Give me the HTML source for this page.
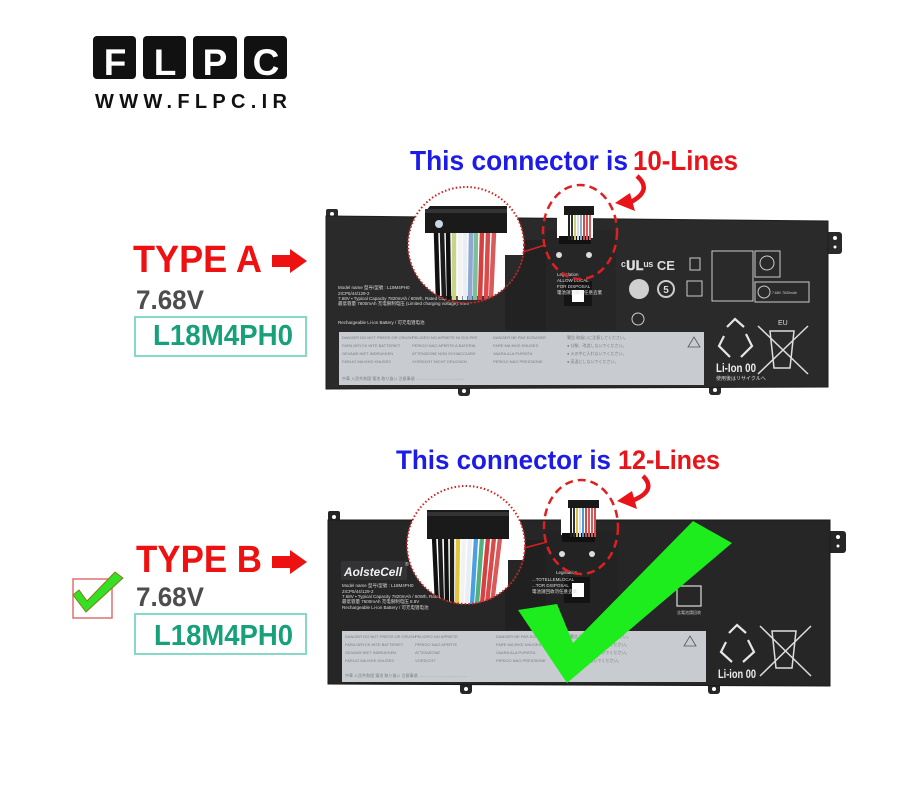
<!DOCTYPE html>
<html><head><meta charset="utf-8"><style>
html,body{margin:0;padding:0;background:#fff;}
svg{display:block;}
text{font-family:"Liberation Sans","Noto Sans CJK JP",sans-serif;}
</style></head><body>
<svg width="915" height="800" viewBox="0 0 915 800" xmlns="http://www.w3.org/2000/svg">
<defs>
<clipPath id="cA"><circle cx="466" cy="245" r="58"/></clipPath>
<clipPath id="cB"><circle cx="466" cy="545" r="59"/></clipPath>
</defs>
<rect width="915" height="800" fill="#fff"/>

<!-- LOGO -->
<g>
<rect x="93" y="36" width="43" height="43" rx="4" fill="#111"/>
<rect x="143" y="36" width="43" height="43" rx="4" fill="#111"/>
<rect x="193" y="36" width="44" height="43" rx="4" fill="#111"/>
<rect x="244" y="36" width="43" height="43" rx="4" fill="#111"/>
<g font-size="37" font-weight="bold" fill="#fff" text-anchor="middle">
<text x="115" y="75">F</text><text x="165" y="75">L</text><text x="215" y="75">P</text><text x="266" y="75">C</text>
</g>
<text x="95" y="108" font-size="20" font-weight="bold" fill="#111" textLength="192" lengthAdjust="spacing">WWW.FLPC.IR</text>
</g>

<!-- LEFT LABELS A -->
<text x="133" y="272" font-size="38" font-weight="bold" fill="#ee1111" textLength="129" lengthAdjust="spacingAndGlyphs">TYPE A</text>
<path d="M272,255 H290 V249 L307,261 L290,273 V267 H272 Z" fill="#ee1111"/>
<text x="136" y="309" font-size="27" font-weight="bold" fill="#4d4d4d" textLength="68" lengthAdjust="spacingAndGlyphs">7.68V</text>
<rect x="135" y="317" width="171" height="39" fill="none" stroke="#86d9c6" stroke-width="2"/>
<text x="153" y="345" font-size="29" font-weight="bold" fill="#17a17b" textLength="140" lengthAdjust="spacingAndGlyphs">L18M4PH0</text>

<!-- LEFT LABELS B -->
<text x="136" y="572" font-size="38" font-weight="bold" fill="#ee1111" textLength="126" lengthAdjust="spacingAndGlyphs">TYPE B</text>
<path d="M272,556 H290 V550 L307,562 L290,574 V568 H272 Z" fill="#ee1111"/>
<text x="136" y="606" font-size="27" font-weight="bold" fill="#4d4d4d" textLength="68" lengthAdjust="spacingAndGlyphs">7.68V</text>
<rect x="135" y="614" width="171" height="40" fill="none" stroke="#86d9c6" stroke-width="2"/>
<text x="154" y="645" font-size="29" font-weight="bold" fill="#17a17b" textLength="139" lengthAdjust="spacingAndGlyphs">L18M4PH0</text>
<rect x="73" y="579" width="39" height="39" fill="none" stroke="#e07070" stroke-width="1.5"/>
<polygon points="73,595 79,590 87,601 115,572 123,578 86,612" fill="#33e022" stroke="#8a7a20" stroke-width="1"/>

<!-- HEADINGS -->
<text x="410" y="170" font-size="28" font-weight="bold" fill="#1c1ce6" textLength="218" lengthAdjust="spacingAndGlyphs">This connector is</text>
<text x="633" y="170" font-size="28" font-weight="bold" fill="#e8141a" textLength="105" lengthAdjust="spacingAndGlyphs">10-Lines</text>
<text x="396" y="469" font-size="27" font-weight="bold" fill="#1c1ce6" textLength="215" lengthAdjust="spacingAndGlyphs">This connector is</text>
<text x="618" y="469" font-size="27" font-weight="bold" fill="#e8141a" textLength="102" lengthAdjust="spacingAndGlyphs">12-Lines</text>

<!-- ================= BATTERY A ================= -->
<g>
<rect x="326" y="209" width="12" height="12" rx="2" fill="#2a2a2b"/>
<circle cx="332" cy="214" r="2" fill="#fff"/>
<rect x="824" y="232" width="18" height="22" rx="3" fill="#2a2a2b"/>
<circle cx="835" cy="238" r="2" fill="#fff"/><circle cx="835" cy="247" r="1.5" fill="#fff"/>
<rect x="458" y="385" width="12" height="11" rx="3" fill="#2a2a2b"/><circle cx="464" cy="391" r="2" fill="#fff"/>
<rect x="709" y="384" width="12" height="11" rx="3" fill="#2a2a2b"/><circle cx="715" cy="390" r="2" fill="#fff"/>
<path d="M326,216 L828,221 L828,387 L326,389 Z" fill="#2a2a2b" stroke="#1e1e1e" stroke-width="1"/>
<rect x="505" y="240" width="46" height="90" fill="#222223"/>
<rect x="546" y="230" width="70" height="100" fill="#262627"/>
<!-- notch -->
<rect x="557" y="212" width="36" height="26" fill="#fff"/>
<rect x="559" y="236" width="32" height="8" fill="#111"/>
<g stroke-width="2">
<line x1="569" y1="214" x2="569" y2="240" stroke="#222"/>
<line x1="572" y1="214" x2="572" y2="240" stroke="#333"/>
<line x1="575" y1="214" x2="575" y2="240" stroke="#c8d080"/>
<line x1="578" y1="214" x2="578" y2="240" stroke="#ddd"/>
<line x1="581" y1="214" x2="581" y2="240" stroke="#90aacc"/>
<line x1="584" y1="214" x2="584" y2="240" stroke="#d04a4a"/>
<line x1="587" y1="214" x2="587" y2="240" stroke="#d85858"/>
<line x1="590" y1="214" x2="590" y2="240" stroke="#d06060"/>
</g>
<rect x="564" y="206" width="30" height="9" fill="#1a1a1a"/>
<circle cx="559" cy="255" r="3" fill="#ddd"/><circle cx="589" cy="255" r="3" fill="#ddd"/>
<rect x="564" y="281" width="28" height="25" fill="#151515"/>
<rect x="572" y="290" width="12" height="12" fill="#fff"/>
<!-- left text -->
<g font-size="4.5" fill="#ddd">
<text x="338" y="289">Model name 型号/型號 : L18M4PH0</text>
<text x="338" y="295">2ICP5/44/129-2</text>
<text x="338" y="300">7.68V ▪ Typical Capacity 7820mAh / 60Wh, Rated Capacity 7600mAh</text>
<text x="338" y="305">最低容量 7600mAh 充电限制电压 (Limited charging voltage): 8.8V</text>
<text x="338" y="324">Rechargeable Li-ion Battery / 可充电锂电池</text>
<text x="557" y="276">Legislation</text>
<text x="557" y="282">ALLOW LOCAL</text>
<text x="557" y="288">FOR DISPOSAL</text>
<text x="557" y="294">電池請回收勿任意丟棄</text>
</g>
<!-- sticker -->
<rect x="339" y="332" width="365" height="53" fill="#c8ccd1"/>
<g font-size="4" fill="#7a7d82">
<text x="342" y="339">DANGER  DO NOT PRESS OR CRUSH</text><text x="412" y="339">PELIGRO  NO APRIETE NI GOLPEE</text><text x="493" y="339">DANGER  NE PAS ECRASER</text><text x="567" y="339">警告 取扱いに注意してください。</text>
<text x="342" y="347">FARA  DRYCK INTE BATTERIET</text><text x="412" y="347">PERIGO  NAO APERTE A BATERIA</text><text x="493" y="347">FARE  MA IKKE KNUSES</text><text x="567" y="347">● 分解、改造しないでください。</text>
<text x="342" y="355">GEVAAR  NIET INDRUKKEN</text><text x="412" y="355">ATTENZIONE  NON SCHIACCIARE</text><text x="493" y="355">VAARA  ALA PURISTA</text><text x="567" y="355">● 火の中に入れないでください。</text>
<text x="342" y="363">FARLIG  MA IKKE KNUSES</text><text x="412" y="363">VORSICHT  NICHT DRUCKEN</text><text x="493" y="363">PERIGO  NAO PRESSIONE</text><text x="567" y="363">● 高温にしないでください。</text>
<text x="342" y="380">中華 人民共和国 電池 取り扱い 注意事項 ............................................</text>
</g>
<path d="M694,337 L700,347 L688,347 Z" fill="none" stroke="#555" stroke-width="0.8"/>
<!-- right icons -->
<g fill="none" stroke="#ccc" stroke-width="1">
<text x="621" y="270" font-size="13" font-weight="bold" fill="#ddd" stroke="none">ᶜ𝐔𝐋ᵘˢ CE</text>
<rect x="690" y="258" width="10" height="12"/>
<circle cx="639" cy="289" r="10" fill="#d0d0d0" stroke="none"/>
<circle cx="666" cy="289" r="8" stroke-width="2"/>
<rect x="687" y="281" width="15" height="15"/>
<circle cx="638" cy="319" r="6"/>
<rect x="712" y="251" width="41" height="50"/>
<rect x="755" y="251" width="25" height="26"/>
<circle cx="767" cy="263" r="7"/>
<rect x="755" y="282" width="54" height="20"/>
<circle cx="764" cy="292" r="6"/>
</g>
<text x="666" y="293" font-size="10" font-weight="bold" fill="#ddd" text-anchor="middle">5</text>
<text x="772" y="294" font-size="3.5" fill="#ccc">7.68V 7630mAh</text>
<!-- recycle A -->
<g fill="none" stroke="#e6e6e6" stroke-width="2.2">
<path d="M727,327 L735,319 L744,327 M746,334 L752,346 L741,357 M730,357 L719,346 L724,336"/>
</g>
<text x="716" y="372" font-size="11.5" font-weight="bold" fill="#eee" textLength="40" lengthAdjust="spacingAndGlyphs">Li-Ion 00</text>
<text x="716" y="380" font-size="5" fill="#ddd">使用後はリサイクルへ</text>
<text x="778" y="325" font-size="7" fill="#ddd">EU</text>
<g fill="none" stroke="#ddd" stroke-width="1.5">
<path d="M770,331 H794 L790,368 H774 Z"/>
<line x1="758" y1="326" x2="808" y2="374"/><line x1="808" y1="326" x2="758" y2="374"/>
</g>
</g>

<!-- Zoom circle A -->
<g>
<g clip-path="url(#cA)">
<rect x="400" y="180" width="140" height="130" fill="#fff"/>
<rect x="505" y="255" width="30" height="60" fill="#2a2a2b"/>
<rect x="400" y="296" width="140" height="20" fill="#2a2a2b"/>
<g stroke-width="4.5">
<line x1="436" y1="232" x2="438" y2="300" stroke="#111"/>
<line x1="442" y1="232" x2="444" y2="300" stroke="#1c1c1c"/>
<line x1="448" y1="232" x2="449" y2="300" stroke="#111"/>
<line x1="454" y1="232" x2="454" y2="300" stroke="#c8d48a"/>
<line x1="460" y1="232" x2="460" y2="300" stroke="#f2f2f2"/>
<line x1="465" y1="232" x2="465" y2="300" stroke="#e8eef4"/>
<line x1="471" y1="232" x2="470" y2="300" stroke="#8ea8d2"/>
<line x1="476" y1="232" x2="475" y2="300" stroke="#7cbf98"/>
<line x1="482" y1="232" x2="480" y2="300" stroke="#d84040"/>
<line x1="488" y1="232" x2="486" y2="300" stroke="#db4a4a"/>
<line x1="494" y1="232" x2="491" y2="300" stroke="#d85a5a"/>
</g>
<path d="M425,212 L430,206 H507 V233 H425 Z" fill="#1a1a1a"/>
<rect x="425" y="209" width="82" height="4" fill="#333"/>
<circle cx="439" cy="224" r="4" fill="#c9d8e6"/>
</g>
<circle cx="466" cy="245" r="58" fill="none" stroke="#d42020" stroke-width="2" stroke-dasharray="1.5 2.2"/>
<line x1="523" y1="252" x2="545" y2="245" stroke="#d42020" stroke-width="1.5"/>
<ellipse cx="580" cy="232" rx="37" ry="47" fill="none" stroke="#e02020" stroke-width="2.5" stroke-dasharray="8 5"/>
<path d="M637,176 Q653,190 631,202" fill="none" stroke="#e8141a" stroke-width="4.5"/>
<polygon points="615,203 630,193 635,211" fill="#e8141a"/>
</g>

<!-- ================= BATTERY B ================= -->
<g>
<rect x="328" y="511" width="12" height="13" rx="2" fill="#262627"/>
<circle cx="334" cy="517" r="2" fill="#fff"/>
<rect x="826" y="531" width="20" height="22" rx="3" fill="#262627"/>
<circle cx="838" cy="537" r="2" fill="#fff"/><circle cx="838" cy="546" r="1.5" fill="#fff"/>
<rect x="460" y="682" width="12" height="12" rx="3" fill="#262627"/><circle cx="466" cy="689" r="2" fill="#fff"/>
<rect x="708" y="682" width="12" height="12" rx="3" fill="#262627"/><circle cx="714" cy="689" r="2" fill="#fff"/>
<path d="M328,520 L830,520 L830,686 L328,684 Z" fill="#262627" stroke="#1a1a1a" stroke-width="1"/>
<rect x="505" y="540" width="46" height="90" fill="#202021"/>
<rect x="546" y="530" width="72" height="100" fill="#232324"/>
<rect x="561" y="514" width="35" height="21" fill="#fff"/>
<rect x="562" y="533" width="33" height="9" fill="#111"/>
<g stroke-width="2">
<line x1="571" y1="508" x2="571" y2="537" stroke="#222"/>
<line x1="574" y1="508" x2="574" y2="537" stroke="#333"/>
<line x1="577" y1="508" x2="577" y2="537" stroke="#d8c050"/>
<line x1="580" y1="508" x2="580" y2="537" stroke="#ddd"/>
<line x1="583" y1="508" x2="583" y2="537" stroke="#4a9ae0"/>
<line x1="586" y1="508" x2="586" y2="537" stroke="#d04a4a"/>
<line x1="589" y1="508" x2="589" y2="537" stroke="#d85858"/>
<line x1="592" y1="508" x2="592" y2="537" stroke="#d06060"/>
<line x1="595" y1="508" x2="595" y2="537" stroke="#d05050"/>
</g>
<rect x="568" y="500" width="31" height="8" fill="#1a1a1a"/>
<circle cx="562" cy="554" r="3" fill="#ddd"/><circle cx="592" cy="554" r="3" fill="#ddd"/>
<rect x="564" y="577" width="26" height="26" fill="#131313"/>
<rect x="572" y="583" width="12" height="14" fill="#fff"/>
<!-- AolsteCell -->
<rect x="341" y="561" width="66" height="19" rx="2" fill="#333335"/>
<text x="344" y="576" font-size="12" font-weight="bold" font-style="italic" fill="#f2f2f2" textLength="58" lengthAdjust="spacingAndGlyphs">AolsteCell</text>
<text x="405" y="566" font-size="5" fill="#ddd">®</text>
<g font-size="4.5" fill="#ddd">
<text x="342" y="587">Model name 型号/型號 : L18M4PH0</text>
<text x="342" y="593">2ICP5/44/129-2</text>
<text x="342" y="598">7.68V ▪ Typical Capacity 7820mAh / 60Wh, Rated Capacity 7600mAh</text>
<text x="342" y="603">最低容量 7600mAh 充电限制电压 8.8V</text>
<text x="342" y="609">Rechargeable Li-ion Battery / 可充电锂电池</text>
<text x="556" y="574">Legislation</text>
<text x="532" y="581">...TOTELLEMLOCAL</text>
<text x="532" y="587">...TOR DISPOSAL</text>
<text x="532" y="593">電池請回收勿任意丟棄</text>
</g>
<rect x="342" y="631" width="364" height="51" fill="#c8ccd1"/>
<g font-size="4" fill="#7a7d82">
<text x="345" y="638">DANGER  DO NOT PRESS OR CRUSH</text><text x="415" y="638">PELIGRO  NO APRIETE</text><text x="496" y="638">DANGER  NE PAS ECRASER</text><text x="570" y="638">警告 取扱いに注意してください。</text>
<text x="345" y="646">FARA  DRYCK INTE BATTERIET</text><text x="415" y="646">PERIGO  NAO APERTE</text><text x="496" y="646">FARE  MA IKKE KNUSES</text><text x="570" y="646">● 分解、改造しないでください。</text>
<text x="345" y="654">GEVAAR  NIET INDRUKKEN</text><text x="415" y="654">ATTENZIONE</text><text x="496" y="654">VAARA  ALA PURISTA</text><text x="570" y="654">● 火の中に入れないでください。</text>
<text x="345" y="662">FARLIG  MA IKKE KNUSES</text><text x="415" y="662">VORSICHT</text><text x="496" y="662">PERIGO  NAO PRESSIONE</text><text x="570" y="662">● 高温にしないでください。</text>
<text x="345" y="677">中華 人民共和国 電池 取り扱い 注意事項 ............................................</text>
</g>
<path d="M690,636 L696,646 L684,646 Z" fill="none" stroke="#555" stroke-width="0.8"/>
<g fill="none" stroke="#ddd" stroke-width="1.2">
<rect x="677" y="586" width="24" height="20"/>
</g>
<text x="677" y="614" font-size="4" fill="#ccc">含電池請回收</text>
<g fill="none" stroke="#e6e6e6" stroke-width="2.2">
<path d="M729,633 L737,625 L746,633 M748,640 L754,652 L743,662 M732,662 L721,652 L726,642"/>
</g>
<text x="718" y="678" font-size="11.5" font-weight="bold" fill="#eee" textLength="38" lengthAdjust="spacingAndGlyphs">Li-ion 00</text>
<g fill="none" stroke="#ddd" stroke-width="1.5">
<path d="M772,631 H796 L792,668 H776 Z"/>
<line x1="760" y1="626" x2="811" y2="676"/><line x1="811" y1="626" x2="760" y2="676"/>
</g>
</g>

<!-- Zoom circle B -->
<g>
<g clip-path="url(#cB)">
<rect x="400" y="480" width="140" height="130" fill="#fff"/>
<rect x="508" y="560" width="30" height="60" fill="#262627"/>
<g stroke-width="4.3">
<line x1="434" y1="538" x2="437" y2="604" stroke="#111"/>
<line x1="440" y1="538" x2="442" y2="604" stroke="#1c1c1c"/>
<line x1="446" y1="538" x2="447" y2="604" stroke="#111"/>
<line x1="452" y1="538" x2="452" y2="604" stroke="#1c1c1c"/>
<line x1="458" y1="538" x2="457" y2="604" stroke="#e3c43e"/>
<line x1="464" y1="538" x2="462" y2="604" stroke="#f2f2f2"/>
<line x1="470" y1="538" x2="467" y2="604" stroke="#e8eef4"/>
<line x1="476" y1="538" x2="472" y2="604" stroke="#4a9ee2"/>
<line x1="482" y1="538" x2="477" y2="604" stroke="#52b07e"/>
<line x1="488" y1="538" x2="482" y2="604" stroke="#d84040"/>
<line x1="494" y1="538" x2="487" y2="604" stroke="#db4a4a"/>
<line x1="500" y1="538" x2="492" y2="604" stroke="#d85a5a"/>
</g>
<rect x="427" y="510" width="82" height="29" fill="#1a1a1a"/>
<rect x="427" y="512" width="82" height="4" fill="#333"/>
</g>
<circle cx="466" cy="545" r="59" fill="none" stroke="#d42020" stroke-width="2" stroke-dasharray="1.5 2.2"/>
<line x1="524" y1="548" x2="547" y2="542" stroke="#d42020" stroke-width="1.5"/>
<ellipse cx="581" cy="527" rx="37" ry="47" fill="none" stroke="#e02020" stroke-width="2.5" stroke-dasharray="8 5"/>
<path d="M643,476 Q657,490 634,500" fill="none" stroke="#e8141a" stroke-width="4.5"/>
<polygon points="617,501 632,491 637,509" fill="#e8141a"/>
</g>

<!-- Big green check -->
<polygon points="518,610 557,604 573,643 693,521 732,543 567,683" fill="#1ded1d"/>
</svg>
</body></html>
